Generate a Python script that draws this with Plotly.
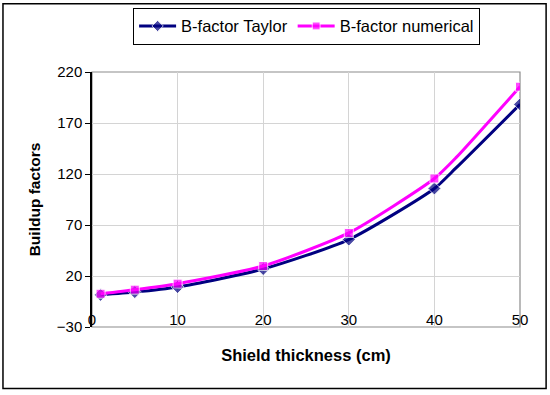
import plotly.graph_objects as go

thickness = [1, 5, 10, 20, 30, 40, 42.5, 50]
taylor = [1.5, 4.2, 9.2, 26.8, 55.7, 105.8, 125.7, 188.3]
numerical = [2.6, 6.6, 12.5, 29.8, 62.2, 115.6, 135.8, 205.6]
marker_sizes = [9, 9, 9, 9, 9, 9, 0, 9]
x_ticks = [0, 10, 20, 30, 40, 50]
y_ticks = [-30, 20, 70, 120, 170, 220]

FONT = "Arial, Liberation Sans, sans-serif"

fig = go.Figure()
fig.add_trace(go.Scatter(
    x=thickness, y=taylor, name="B-factor Taylor", mode="lines+markers",
    line=dict(color="#000080", width=3, shape="spline", smoothing=0.6),
    marker=dict(symbol="diamond", size=[s + 1 if s else 0 for s in marker_sizes], color="#000080"),
))
fig.add_trace(go.Scatter(
    x=thickness, y=numerical, name="B-factor numerical", mode="lines+markers",
    line=dict(color="#FF00FF", width=3, shape="spline", smoothing=0.6),
    marker=dict(symbol="square", size=marker_sizes, color="#FF00FF"),
))

fig.update_layout(
    width=550, height=395,
    margin=dict(l=92, r=30, t=72, b=68, autoexpand=False),
    paper_bgcolor="white", plot_bgcolor="white",
    font=dict(family=FONT, size=15, color="black"),
    showlegend=True,
    legend=dict(orientation="h", x=0.096, y=1.252, xanchor="left", yanchor="top",
                bordercolor="black", borderwidth=1, bgcolor="white", itemwidth=37,
                font=dict(size=16.5, family=FONT)),
    xaxis=dict(range=[0, 50], tickvals=x_ticks, showgrid=True, gridcolor="#d4d4d4",
               gridwidth=1, zeroline=False, showline=False, ticks="",
               anchor="free", position=0.07, automargin=False,
               ticklabeloverflow="allow",
               title=dict(text="<b>Shield thickness (cm)</b>", standoff=22,
                          font=dict(size=16.5, family=FONT))),
    xaxis2=dict(range=[0, 50], tickvals=x_ticks, overlaying="x", anchor="free",
                position=30 / 250, side="bottom", showline=True, linecolor="black",
                linewidth=1.5, ticks="outside", ticklen=5, tickcolor="black",
                showticklabels=False, showgrid=False, zeroline=False, automargin=False),
    yaxis=dict(range=[-30, 220], tickvals=y_ticks, showgrid=True, gridcolor="#d4d4d4",
               zeroline=False, showline=True, linecolor="black", linewidth=1.5,
               ticks="outside", ticklen=5, tickcolor="black", automargin=False,
               title=dict(text="<b>Buildup factors</b>", standoff=12,
                          font=dict(size=15.5, family=FONT))),
    shapes=[
        dict(type="rect", xref="x domain", yref="y domain", x0=0, x1=1, y0=0, y1=1,
             line=dict(color="#8c8c8c", width=1.2), layer="below"),
        dict(type="rect", xref="paper", yref="paper", x0=-0.208, x1=1.061,
             y0=-0.241, y1=1.268, line=dict(color="black", width=1.5)),
    ],
)

fig.write_html("out.html", config={"displayModeBar": False},
               post_script="document.body.style.margin='0';document.body.style.padding='0';")
